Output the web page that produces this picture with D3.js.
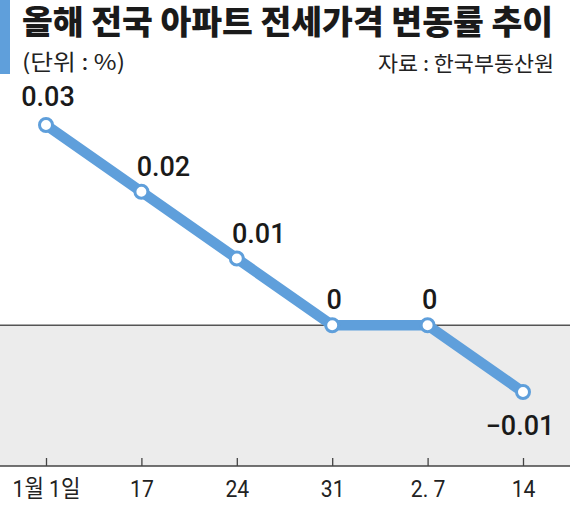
<!DOCTYPE html>
<html>
<head>
<meta charset="utf-8">
<script src="https://cdn.jsdelivr.net/npm/d3@7"></script>
<style>
  html, body { margin: 0; padding: 0; background: #fff; }
  svg { display: block; }
</style>
</head>
<body>
<div id="chart"></div>
<script>
// data
const dates = ["1월 1일", "17", "24", "31", "2. 7", "14"];
const rates = [0.03, 0.02, 0.01, 0, 0, -0.01];
const rateLabels = ["0.03", "0.02", "0.01", "0", "0", "−0.01"];

const width = 570, height = 507;
const blue = "#5f9fdb";

const svg = d3.select("#chart").append("svg")
  .attr("width", width)
  .attr("height", height);

// header
svg.append("rect")
  .attr("x", 0).attr("y", 0)
  .attr("width", 10).attr("height", 74)
  .attr("fill", blue);

svg.append("text")
  .attr("x", 22).attr("y", 34)
  .attr("font-family", "'Noto Sans CJK KR', sans-serif")
  .attr("font-weight", 900)
  .attr("font-size", 33)
  .attr("textLength", 531)
  .attr("lengthAdjust", "spacingAndGlyphs")
  .attr("fill", "#1a1a1a")
  .text("올해 전국 아파트 전세가격 변동률 추이");

svg.append("text")
  .attr("x", 22).attr("y", 70)
  .attr("font-family", "'Noto Sans CJK KR', sans-serif")
  .attr("font-size", 22)
  .attr("textLength", 103)
  .attr("lengthAdjust", "spacingAndGlyphs")
  .attr("fill", "#222")
  .text("(단위 : %)");

svg.append("text")
  .attr("x", 378).attr("y", 71)
  .attr("font-family", "'Noto Sans CJK KR', sans-serif")
  .attr("font-size", 21)
  .attr("textLength", 176)
  .attr("lengthAdjust", "spacingAndGlyphs")
  .attr("fill", "#222")
  .text("자료 : 한국부동산원");

// scales
const x = d3.scalePoint()
  .domain(dates)
  .range([46, 523]);

const y = d3.scaleLinear()
  .domain([-0.01, 0.03])
  .range([392, 125]);

const axisY = 466;

// gray band below zero
svg.append("rect")
  .attr("x", 0)
  .attr("y", y(0))
  .attr("width", width)
  .attr("height", axisY - y(0))
  .attr("fill", "#ececec");

svg.append("line")
  .attr("x1", 0).attr("x2", width)
  .attr("y1", y(0)).attr("y2", y(0))
  .attr("stroke", "#555")
  .attr("stroke-width", 1.3);

// x axis (ticks pointing up)
const xAxis = svg.append("g")
  .attr("transform", `translate(0,${axisY})`)
  .call(d3.axisBottom(x).tickSize(-8).tickPadding(14).tickSizeOuter(0));

xAxis.select(".domain").remove();
xAxis.append("line")
  .attr("x1", 0).attr("x2", width)
  .attr("stroke", "#444")
  .attr("stroke-width", 1.5);
xAxis.selectAll(".tick line")
  .attr("stroke", "#444")
  .attr("stroke-width", 1.3);
xAxis.selectAll(".tick text")
  .attr("font-family", "Roboto, 'Noto Sans CJK KR', sans-serif")
  .attr("font-size", 24)
  .attr("fill", "#222")
  .attr("dy", "0.71em")
  .attr("transform", "scale(0.88,1)");

// line
const pts = dates.map((d, i) => [x(d), y(rates[i])]);

svg.append("path")
  .datum(pts)
  .attr("d", d3.line())
  .attr("fill", "none")
  .attr("stroke", blue)
  .attr("stroke-width", 10.5)
  .attr("stroke-linejoin", "round");

svg.selectAll("circle.pt")
  .data(pts)
  .join("circle")
  .attr("class", "pt")
  .attr("cx", d => d[0])
  .attr("cy", d => d[1])
  .attr("r", 6.5)
  .attr("fill", "#fff")
  .attr("stroke", blue)
  .attr("stroke-width", 3);

// value labels
svg.selectAll("text.val")
  .data(rates)
  .join("text")
  .attr("class", "val")
  .attr("x", (d, i) => {
    const px = x(dates[i]);
    if (i === 1 || i === 2) return px + 22;
    if (d < 0) return px - 3;
    return px + 2;
  })
  .attr("y", (d, i) => {
    const py = y(d);
    if (d < 0) return py + 43;
    return py - (i === 0 ? 19 : 16);
  })
  .attr("text-anchor", "middle")
  .attr("font-family", "Roboto, sans-serif")
  .attr("font-weight", 500)
  .attr("font-size", 27)
  .attr("fill", "#1a1a1a")
  .text((d, i) => rateLabels[i]);
</script>
</body>
</html>
